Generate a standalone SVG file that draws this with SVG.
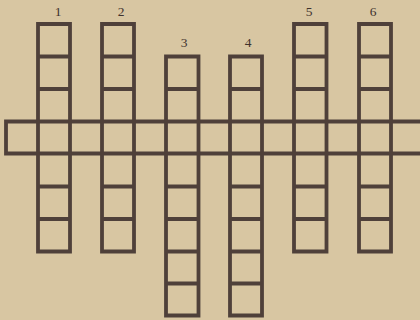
<svg xmlns="http://www.w3.org/2000/svg" width="420" height="320" viewBox="0 0 420 320">
  <style>
    .bg { fill: #d8c6a2; }
    .grid { fill: none; stroke: #4f403a; stroke-width: 3.8; stroke-linecap: square; }
    .lbl { font-family: "Liberation Serif", "DejaVu Serif", serif; font-size: 13.5px; fill: #3f322d; text-anchor: middle; }
  </style>
  <rect class="bg" x="0" y="0" width="420" height="320"/>

  <g id="row">
    <path class="grid" d="M6,121.5 H424 M6,153.5 H424 M6,121.5 V153.5"/>
  </g>

  <g id="col1">
    <text class="lbl" x="58" y="15.5">1</text>
    <path class="grid" d="M38,24 H70 V251.5 H38 Z M38,56.5 H70 M38,89 H70 M38,186.5 H70 M38,219 H70"/>
  </g>

  <g id="col2">
    <text class="lbl" x="121" y="15.5">2</text>
    <path class="grid" d="M102,24 H134 V251.5 H102 Z M102,56.5 H134 M102,89 H134 M102,186.5 H134 M102,219 H134"/>
  </g>

  <g id="col3">
    <text class="lbl" x="184" y="47">3</text>
    <path class="grid" d="M166,56.5 H198.5 V315.5 H166 Z M166,89 H198.5 M166,186.5 H198.5 M166,219 H198.5 M166,251.5 H198.5 M166,283.5 H198.5"/>
  </g>

  <g id="col4">
    <text class="lbl" x="248" y="47">4</text>
    <path class="grid" d="M230,56.5 H262 V315.5 H230 Z M230,89 H262 M230,186.5 H262 M230,219 H262 M230,251.5 H262 M230,283.5 H262"/>
  </g>

  <g id="col5">
    <text class="lbl" x="309" y="15.5">5</text>
    <path class="grid" d="M294,24 H326.5 V251.5 H294 Z M294,56.5 H326.5 M294,89 H326.5 M294,186.5 H326.5 M294,219 H326.5"/>
  </g>

  <g id="col6">
    <text class="lbl" x="373" y="15.5">6</text>
    <path class="grid" d="M359,24 H391 V251.5 H359 Z M359,56.5 H391 M359,89 H391 M359,186.5 H391 M359,219 H391"/>
  </g>
</svg>
